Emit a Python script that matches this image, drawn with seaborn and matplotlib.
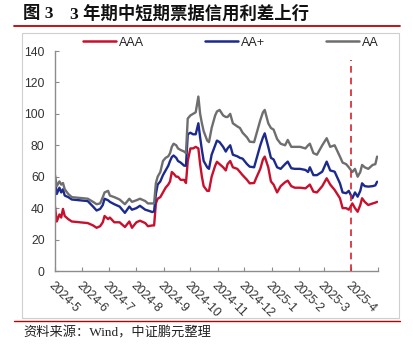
import matplotlib
matplotlib.use("Agg")
import matplotlib.pyplot as plt
from matplotlib.lines import Line2D
from matplotlib.patches import Rectangle
import pandas as pd
import seaborn as sns

dates = [
    "2024-05-01", "2024-05-03", "2024-05-06", "2024-05-08", "2024-05-10", "2024-05-12",
    "2024-05-16", "2024-05-20", "2024-05-29", "2024-06-07", "2024-06-13", "2024-06-17",
    "2024-06-21", "2024-06-24", "2024-06-26", "2024-06-30", "2024-07-02", "2024-07-07",
    "2024-07-13", "2024-07-19", "2024-07-24", "2024-07-27", "2024-08-01", "2024-08-05",
    "2024-08-11", "2024-08-14", "2024-08-19", "2024-08-21", "2024-08-23", "2024-08-25",
    "2024-08-28", "2024-08-31", "2024-09-03", "2024-09-06", "2024-09-08", "2024-09-10",
    "2024-09-12", "2024-09-15", "2024-09-17", "2024-09-20", "2024-09-24", "2024-09-26",
    "2024-09-28", "2024-10-01", "2024-10-04", "2024-10-07", "2024-10-10", "2024-10-12",
    "2024-10-14", "2024-10-16", "2024-10-20", "2024-10-22", "2024-10-25", "2024-10-29",
    "2024-10-31", "2024-11-03", "2024-11-07", "2024-11-10", "2024-11-12", "2024-11-15",
    "2024-11-18", "2024-11-23", "2024-11-26", "2024-11-29", "2024-12-04", "2024-12-07",
    "2024-12-12", "2024-12-15", "2024-12-19", "2024-12-22", "2024-12-24", "2024-12-28",
    "2024-12-31", "2025-01-03", "2025-01-07", "2025-01-11", "2025-01-16", "2025-01-19",
    "2025-01-23", "2025-01-27", "2025-02-02", "2025-02-08", "2025-02-11", "2025-02-13",
    "2025-02-17", "2025-02-21", "2025-02-27", "2025-03-04", "2025-03-08", "2025-03-13",
    "2025-03-19", "2025-03-22", "2025-03-26", "2025-03-29", "2025-04-02", "2025-04-05",
    "2025-04-08", "2025-04-11", "2025-04-13", "2025-04-16", "2025-04-20", "2025-04-25",
    "2025-04-28", "2025-04-30",
]

aaa = [
    41, 31.5, 36, 34, 39.5, 35, 33, 31.5, 31, 30.5, 29, 27.5,
    28.5, 31, 35, 33, 34, 31, 31, 28, 31.5, 27.5, 31, 32,
    30.5, 28.5, 29, 29, 43, 46, 47, 50, 53, 55, 57, 63,
    62, 60, 60, 58, 58, 56, 70, 78, 78, 79, 78, 68,
    60, 54, 51, 51, 60, 67, 69.5, 68, 66, 64, 68, 70,
    66, 65, 63, 61, 58, 55.8, 56, 60, 65, 71, 72.8, 66,
    57, 55, 50, 54, 56.5, 57.5, 54, 53, 53, 52.6, 54, 55,
    50.5, 50, 54, 59, 55, 51.6, 46.3, 40, 40, 39, 43, 40,
    37.7, 42, 46.3, 44, 42, 43, 43.5, 44,
]

aa_plus = [
    58, 49, 53, 50, 52, 48, 47, 45.5, 45, 44.5, 41, 38.5,
    39.5, 42, 46, 45, 44, 42.5, 41, 37, 41, 39, 40, 41.5,
    39, 38.5, 37.5, 38, 49, 55, 57, 61, 64, 67, 70, 72.5,
    73.5, 72, 70, 69, 67, 67, 87, 88, 87, 87, 94, 85,
    77, 70, 66, 65, 74, 80, 83, 82, 79, 76, 78, 80,
    74, 73, 72, 71.5, 68, 66.4, 66, 72, 80, 85, 87.6, 79,
    72, 71, 66, 65, 68, 69.6, 65.4, 65, 65, 64.3, 63, 66,
    61, 61, 63.2, 69.6, 64, 63.2, 55.8, 50, 49.5, 51, 46.3, 50,
    47.3, 51, 55.8, 54, 53.7, 54, 54.5, 56.8,
]

aa = [
    61, 54, 57, 55, 56, 52, 49, 47, 46.5, 46, 44, 42.5,
    43, 47, 50, 51, 48, 47, 45.5, 42.5, 46, 44, 45, 46,
    44.5, 43, 43, 43, 56, 60, 63, 70, 72, 73, 75, 79,
    81, 80, 78, 77, 76, 75, 97, 99, 100, 101, 111, 100,
    94, 89, 83, 82, 91, 99, 101.5, 102.5, 99, 98, 98, 100,
    94, 92, 91, 88, 85, 82.3, 82, 88, 96, 101, 102.5, 94,
    91, 90, 84, 81, 80, 83.4, 79, 79, 79, 78, 80, 81,
    75, 74, 80, 84.5, 79, 80, 72.8, 69, 68, 66, 63, 65,
    60, 63, 67.5, 66, 65, 67.5, 68, 72.8,
]

series_names = ["AAA", "AA+", "AA"]
series_colors = ["#C8102E", "#1C2A8E", "#6E6E6E"]
tick_months = ["2024-05-01", "2024-06-01", "2024-07-01", "2024-08-01", "2024-09-01",
               "2024-10-01", "2024-11-01", "2024-12-01", "2025-01-01", "2025-02-01",
               "2025-03-01", "2025-04-01", "2025-05-01"]
tick_labels = ["2024-5", "2024-6", "2024-7", "2024-8", "2024-9", "2024-10",
               "2024-11", "2024-12", "2025-1", "2025-2", "2025-3", "2025-4", ""]
marker_date = "2025-04-01"
y_ticks = [0, 20, 40, 60, 80, 100, 120, 140]

title_label = "图 3"
title_text = "3 年期中短期票据信用利差上行"
source_text = "资料来源：Wind，中证鹏元整理"

sns.set_theme(style="white")
plt.rcParams["font.family"] = ["Liberation Sans", "Noto Sans CJK SC", "DejaVu Sans"]

d = pd.to_datetime(dates)
df = pd.concat([
    pd.DataFrame({"date": d, "value": vals, "rating": name})
    for name, vals in zip(series_names, [aaa, aa_plus, aa])
], ignore_index=True)

fig = plt.figure(figsize=(4.13, 3.5), dpi=100)
ax = fig.add_axes([55 / 413, 1 - 271 / 350, (378 - 55) / 413, (271 - 51) / 350])

sns.lineplot(data=df, x="date", y="value", hue="rating", hue_order=series_names,
             palette=series_colors, linewidth=1.7, legend=False, ax=ax)

ax.plot([pd.Timestamp(marker_date)] * 2, [0, 134], color="#D9232E", lw=1.2,
        ls=(0, (4, 3)), zorder=5)

ax.set_xlim(pd.Timestamp(tick_months[0]), pd.Timestamp(tick_months[-1]))
ax.set_ylim(0, 140)
ax.set_yticks(y_ticks)
ax.set_yticklabels([str(v) for v in y_ticks], fontsize=8.7, color="#333333")
ax.set_xticks(pd.to_datetime(tick_months))
ax.set_xticklabels(tick_labels, rotation=-45, ha="left", va="top",
                   rotation_mode="anchor", fontsize=8.7, color="#333333")
ax.set_xlabel("")
ax.set_ylabel("")
for s in ["top", "right"]:
    ax.spines[s].set_visible(False)
for s in ["left", "bottom"]:
    ax.spines[s].set_color("#8C8C8C")
    ax.spines[s].set_linewidth(1.0)
ax.tick_params(axis="both", direction="in", length=3, width=0.8, color="#8C8C8C",
               left=True, bottom=True)
ax.tick_params(axis="x", pad=6)
ax.tick_params(axis="y", pad=7.5)
ax.set_facecolor("none")

handles = [Line2D([0], [0], color=c, lw=1.8) for c in series_colors]
fig.legend(handles, series_names, loc="upper left", ncol=3, frameon=False,
           bbox_to_anchor=(80 / 413, 1 - 34 / 350), fontsize=9,
           prop={"family": ["Liberation Sans Narrow", "Liberation Sans"], "size": 9},
           handlelength=2.7, handletextpad=0.25, columnspacing=4.8,
           borderaxespad=0, borderpad=0.2)

# frame and decoration
fig.patches.append(Rectangle((22 / 413, 1 - 318 / 350), (399 - 22) / 413, (318 - 33) / 350,
                             transform=fig.transFigure, fill=False, ec="#CFCFCF", lw=0.8))
fig.add_artist(Line2D([14 / 413, 400 / 413], [1 - 26 / 350] * 2, color="#C00000", lw=1.3))
fig.add_artist(Line2D([14 / 413, 400 / 413], [1 - 321 / 350] * 2, color="#C00000", lw=1.0))

cjk_serif = ["Liberation Serif", "Noto Sans CJK SC", "DejaVu Sans"]
fig.text(23 / 413, 1 - 14.5 / 350, title_label, fontsize=12.5, fontweight="bold",
         va="center", ha="left", family=cjk_serif, color="#111111")
fig.text(70 / 413, 1 - 14.5 / 350, title_text, fontsize=12.5, fontweight="bold",
         va="center", ha="left", family=cjk_serif, color="#111111")
fig.text(23 / 413, 1 - 333 / 350, source_text, fontsize=9.5, va="center", ha="left",
         family=cjk_serif, color="#222222")

fig.savefig("out.png", dpi=100)
